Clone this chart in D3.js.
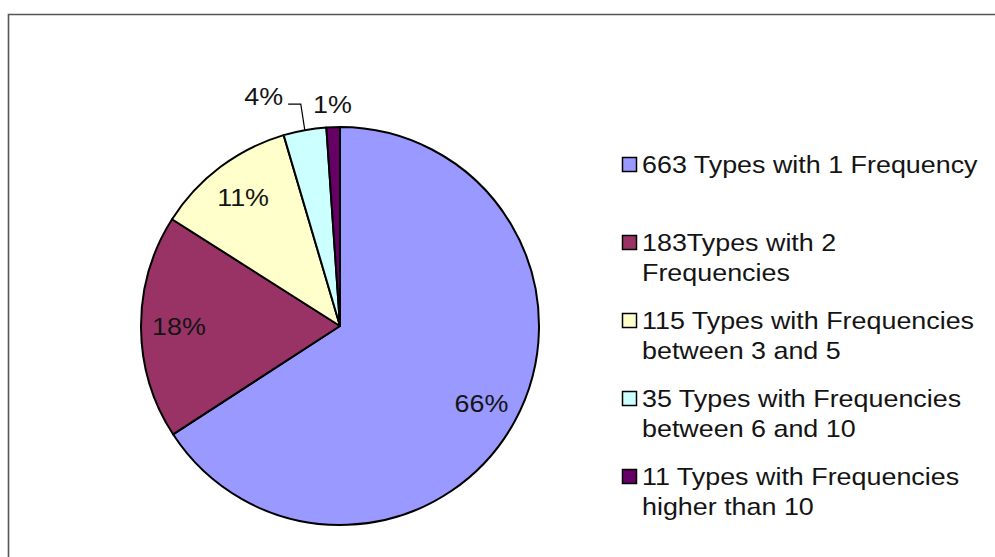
<!DOCTYPE html>
<html>
<head>
<meta charset="utf-8">
<script src="https://cdn.jsdelivr.net/npm/d3@7"></script>
<style>
  html, body { margin: 0; padding: 0; background: #fff; }
  svg { display: block; }
  text { font-family: "Liberation Sans", Arial, sans-serif; fill: #141414; }
</style>
</head>
<body>
<svg id="chart" width="995" height="557"></svg>
<script>
// Frequency classes of word types
const categories = [
  "663 Types with 1 Frequency",
  "183Types with 2 Frequencies",
  "115 Types with Frequencies between 3 and 5",
  "35 Types with Frequencies between 6 and 10",
  "11 Types with Frequencies higher than 10"
];
// legend entries as wrapped lines
const legendLines = [
  ["663 Types with 1 Frequency"],
  ["183Types with 2", "Frequencies"],
  ["115 Types with Frequencies", "between 3 and 5"],
  ["35 Types with Frequencies", "between 6 and 10"],
  ["11 Types with Frequencies", "higher than 10"]
];
const typeCounts = [663, 183, 115, 35, 11];
const sliceColors = ["#9999FF", "#993366", "#FFFFCC", "#CCFFFF", "#660066"];

// ---- layout ----
const W = 995, H = 557;
const cx = 340, cy = 326, R = 199;
const FONT = 24, SX = 1.12;          // label font size and horizontal stretch
const labelRadius = 161;             // inside labels
const outerLabelRadius = 222;        // labels of thin slices

const svg = d3.select("#chart");

// chart frame (runs off the right and bottom edges)
svg.append("path")
  .attr("d", `M8.5,${H} V14.5 H${W}`)
  .attr("fill", "none")
  .attr("stroke", "#555")
  .attr("stroke-width", 1.6);

// percentages rounded so that they add up to 100 (largest remainder)
const total = d3.sum(typeCounts);
const raw = typeCounts.map(v => v / total * 100);
const pct = raw.map(Math.floor);
let missing = 100 - d3.sum(pct);
d3.range(raw.length)
  .sort((a, b) => (raw[b] - Math.floor(raw[b])) - (raw[a] - Math.floor(raw[a])))
  .slice(0, missing)
  .forEach(i => pct[i] += 1);

const pie = d3.pie().sort(null).value(d => d)(typeCounts);
const arc = d3.arc().innerRadius(0).outerRadius(R);

const gPie = svg.append("g").attr("transform", `translate(${cx},${cy})`);

gPie.selectAll("path.slice")
  .data(pie)
  .join("path")
  .attr("class", "slice")
  .attr("d", arc)
  .attr("fill", (d, i) => sliceColors[i])
  .attr("stroke", "#000")
  .attr("stroke-width", 2)
  .attr("stroke-linejoin", "round");

// percentage labels
const innerArc = d3.arc().innerRadius(labelRadius).outerRadius(labelRadius);
const outerArc = d3.arc().innerRadius(outerLabelRadius).outerRadius(outerLabelRadius);
const edgeArc = d3.arc().innerRadius(R).outerRadius(R);
// thin slices get their label outside; crowded ones are pushed aside
const labelShift = { 3: [-37, -11] };

pie.forEach((d, i) => {
  const span = d.endAngle - d.startAngle;
  const outside = span < 0.35;
  let [x, y] = (outside ? outerArc : innerArc).centroid(d);
  const shift = labelShift[i];
  if (shift) { x += shift[0]; y += shift[1]; }
  const text = pct[i] + "%";
  const g = gPie.append("g").attr("transform", `translate(${x},${y})`);
  const t = g.append("text")
    .attr("transform", `scale(${SX},1)`)
    .attr("text-anchor", "middle")
    .attr("dy", "0.36em")
    .attr("font-size", FONT)
    .text(text);
  if (shift) {
    // leader line from the moved label back to its slice
    const half = t.node().getComputedTextLength() * SX / 2;
    const [ex, ey] = edgeArc.centroid(d);
    const ly = y + FONT * 0.32;
    gPie.append("path")
      .attr("d", `M${x + half + 5},${ly} H${ex - 4} L${ex},${ey}`)
      .attr("fill", "none")
      .attr("stroke", "#000")
      .attr("stroke-width", 1.2);
  }
});

// legend
const legendX = 622, firstBaseline = 173, entryStep = 78, lineStep = 30, box = 15;
const gLeg = svg.append("g");
legendLines.forEach((lines, i) => {
  const base = firstBaseline + i * entryStep;
  gLeg.append("rect")
    .attr("x", legendX + 0.5)
    .attr("y", base - box - 0.5)
    .attr("width", box - 1)
    .attr("height", box - 1)
    .attr("fill", sliceColors[i])
    .attr("stroke", "#000")
    .attr("stroke-width", 1.5);
  lines.forEach((line, j) => {
    gLeg.append("g")
      .attr("transform", `translate(${legendX + 20},${base + j * lineStep})`)
      .append("text")
      .attr("transform", `scale(${SX},1)`)
      .attr("font-size", FONT)
      .text(line);
  });
});
</script>
</body>
</html>
